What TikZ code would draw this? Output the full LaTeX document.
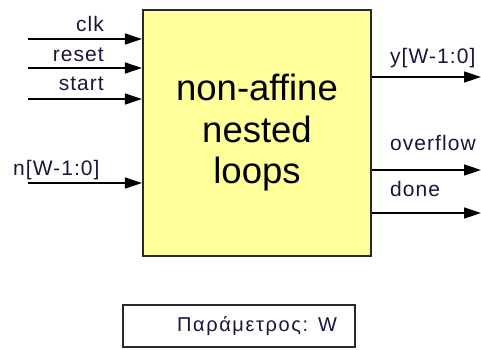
\documentclass[tikz,border=0pt]{standalone}
\usepackage{fontspec}
\setmainfont{Liberation Sans}[Ligatures=NoCommon]
\newfontfamily\lblfont{Liberation Sans}[LetterSpace=5,Ligatures=NoCommon]
\usetikzlibrary{arrows.meta}
\definecolor{blockfill}{HTML}{FFFF99}
\definecolor{lblink}{HTML}{16163E}
\definecolor{edge}{HTML}{2A2A2A}

\begin{document}
\begin{tikzpicture}[x=1pt,y=-1pt,
  block/.style={draw=edge, line width=2.2pt, fill=blockfill, inner sep=0pt,
    minimum width=228pt, minimum height=246pt, align=center,
    font=\fontsize{36.5}{41.5}\selectfont},
  sig/.style={line width=1.6pt, -{Triangle[length=17pt,width=11pt]}},
  lbl/.style={inner sep=0pt, text=lblink, font=\lblfont\fontsize{21}{25}\selectfont},
  parbox/.style={draw=edge, line width=1.6pt, fill=white, minimum height=42pt,
    inner xsep=18pt, inner ysep=0pt, text width=196pt, align=right, text=lblink,
    font=\lblfont\addfontfeatures{LetterSpace=8}\fontsize{20}{24}\selectfont}]
\useasboundingbox (0,0) rectangle (481,349);

% the loop-nest block
\node[block] (blk) at (257,133) {non-affine\\nested\\loops};

% input ports
\coordinate (clk)   at (28,39);
\coordinate (reset) at (28,68);
\coordinate (start) at (28,99);
\coordinate (nin)   at (28,183);
\draw[sig] (clk)   -- (clk -| blk.west);
\draw[sig] (reset) -- (reset -| blk.west);
\draw[sig] (start) -- (start -| blk.west);
\draw[sig] (nin)   -- (nin -| blk.west);

\node[lbl, anchor=base east] (lclk)   at (104,31) {clk};
\node[lbl, anchor=base east] (lreset) at (104,61) {reset};
\node[lbl, anchor=base east] (lstart) at (104,90) {start};
\node[lbl, anchor=base west] (ln)     at (13,175) {n[W-1:0]};

% output ports
\coordinate (yout)  at (481,77);
\coordinate (ovf)   at (481,170);
\coordinate (done)  at (481,213);
\draw[sig] (yout -| blk.east) -- (yout);
\draw[sig] (ovf -| blk.east)  -- (ovf);
\draw[sig] (done -| blk.east) -- (done);

\node[lbl, anchor=base west] (ly)    at (390,63)  {y[W-1:0]};
\node[lbl, anchor=base west] (lovf)  at (390,150) {overflow};
\node[lbl, anchor=base west] (ldone) at (390,196) {done};

% generic parameter
\node[parbox] (param) at (239,326) {Παράμετρος: W};
\end{tikzpicture}
\end{document}
